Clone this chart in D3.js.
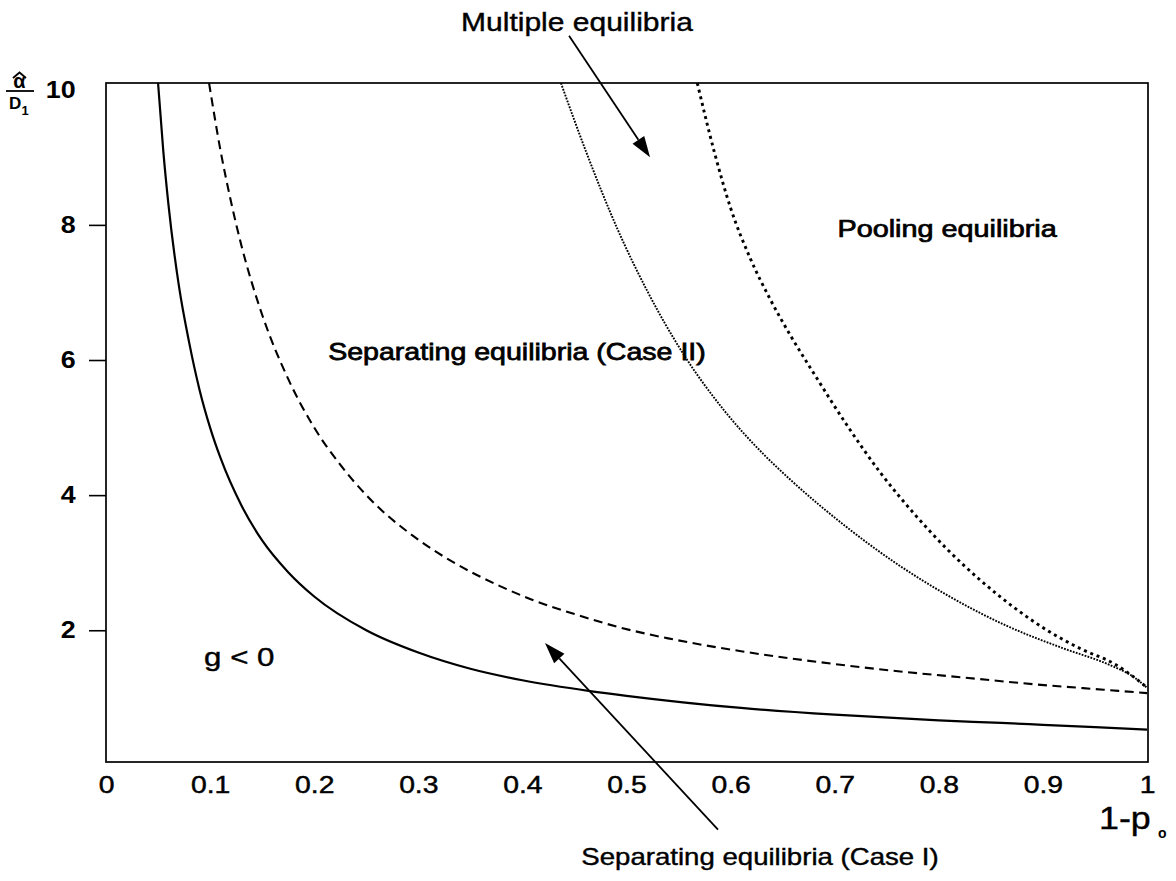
<!DOCTYPE html>
<html>
<head>
<meta charset="utf-8">
<script src="https://cdn.jsdelivr.net/npm/d3@7"></script>
<style>
  body { margin: 0; background: #fff; }
  svg { display: block; font-family: "Liberation Sans", Arial, Helvetica, sans-serif; }
</style>
</head>
<body>
<div id="chart"></div>
<script>
// boundary curves, as [1-p0, alpha/D1]
const solidCurve = [
  [0.050, 10.1], [0.055, 9.1], [0.060, 8.3], [0.070, 7.1], [0.080, 6.25], [0.090, 5.55],
  [0.100, 5.0], [0.110, 4.55], [0.130, 3.85], [0.150, 3.33], [0.175, 2.86], [0.200, 2.5],
  [0.250, 2.0], [0.300, 1.67], [0.350, 1.43], [0.400, 1.26], [0.465, 1.1], [0.500, 1.03],
  [0.610, 0.85], [0.700, 0.75], [0.800, 0.665], [0.860, 0.628], [0.900, 0.60], [1.000, 0.53]
];
const dashedCurve = [
  [0.099, 10.1], [0.110, 9.1], [0.120, 8.35], [0.130, 7.7], [0.150, 6.67], [0.175, 5.72],
  [0.200, 5.0], [0.225, 4.45], [0.250, 4.0], [0.300, 3.34], [0.331, 3.03], [0.379, 2.65],
  [0.408, 2.46], [0.450, 2.24], [0.494, 2.04], [0.540, 1.88], [0.610, 1.69], [0.700, 1.5],
  [0.763, 1.39], [0.824, 1.3], [0.892, 1.2], [0.950, 1.13], [1.000, 1.07]
];
const fineDotCurve = [
  [0.437, 10.1], [0.462, 9.05], [0.491, 7.95], [0.520, 7.02], [0.555, 6.08], [0.594, 5.25],
  [0.632, 4.6], [0.658, 4.22], [0.712, 3.52], [0.760, 2.98], [0.808, 2.52], [0.866, 2.06],
  [0.920, 1.73], [0.962, 1.5], [0.988, 1.3], [1.000, 1.15]
];
const thickDotCurve = [
  [0.568, 10.1], [0.584, 9.1], [0.600, 8.25], [0.619, 7.5], [0.638, 6.9], [0.658, 6.35],
  [0.680, 5.8], [0.712, 5.03], [0.744, 4.33], [0.776, 3.73], [0.808, 3.2], [0.840, 2.74],
  [0.872, 2.34], [0.904, 2.0], [0.937, 1.72], [0.969, 1.5], [0.988, 1.3], [1.000, 1.15]
];

const xTicks = [0, 0.1, 0.2, 0.3, 0.4, 0.5, 0.6, 0.7, 0.8, 0.9, 1];
const xTickLabels = ["0", "0.1", "0.2", "0.3", "0.4", "0.5", "0.6", "0.7", "0.8", "0.9", "1"];
const yTicks = [2, 4, 6, 8, 10];
const yTickLabels = ["2", "4", "6", "8", "10"];

const width = 1176, height = 881;
const box = {left: 106, right: 1148, top: 83, bottom: 762};

const svg = d3.select("#chart")
  .append("svg")
  .attr("width", width)
  .attr("height", height)
  .attr("viewBox", `0 0 ${width} ${height}`);

const x = d3.scaleLinear().domain([0, 1]).range([box.left, box.right - 1]);
const y = d3.scaleLinear().domain([0.05, 10.1]).range([box.bottom, box.top]);

svg.append("clipPath").attr("id", "plot-clip")
  .append("rect")
  .attr("x", box.left).attr("y", box.top)
  .attr("width", box.right - box.left).attr("height", box.bottom - box.top);

// x axis: labels only, no tick marks
const gx = svg.append("g")
  .attr("transform", `translate(0,${box.bottom})`)
  .call(d3.axisBottom(x).tickValues(xTicks).tickFormat((d, i) => xTickLabels[i]).tickSize(0).tickPadding(14))
  .attr("font-family", null).attr("font-size", null);
gx.select(".domain").remove();
gx.selectAll("text")
  .attr("fill", "#000")
  .attr("stroke", "#000").attr("stroke-width", 0.45)
  .style("font-size", "24px")
  .attr("transform", "scale(1.18,1)");

// y axis: outward ticks at 2..8, label only at 10
const gy = svg.append("g")
  .attr("transform", `translate(${box.left},0)`)
  .call(d3.axisLeft(y).tickValues(yTicks).tickFormat((d, i) => yTickLabels[i]).tickSize(17).tickPadding(14))
  .attr("font-family", null).attr("font-size", null);
gy.select(".domain").remove();
gy.selectAll(".tick line").attr("stroke", "#000").attr("stroke-width", 1.6);
gy.selectAll(".tick").filter(d => d === 10).select("line").remove();
gy.selectAll("text")
  .attr("fill", "#000")
  .attr("x", -27)
  .style("font-size", "24px")
  .style("font-weight", "bold")
  .attr("transform", "scale(1.12,1)");

// frame
svg.append("rect")
  .attr("x", box.left).attr("y", box.top)
  .attr("width", box.right - box.left).attr("height", box.bottom - box.top)
  .attr("fill", "none").attr("stroke", "#000").attr("stroke-width", 1.7);

// curves
const line = d3.line().x(d => x(d[0])).y(d => y(d[1])).curve(d3.curveMonotoneX);
const curves = svg.append("g").attr("clip-path", "url(#plot-clip)").attr("fill", "none").attr("stroke", "#000");

curves.append("path").datum(solidCurve).attr("d", line).attr("stroke-width", 2.2);
curves.append("path").datum(dashedCurve).attr("d", line).attr("stroke-width", 2.1)
  .attr("stroke-dasharray", "9,5.5");
curves.append("path").datum(fineDotCurve).attr("d", line).attr("stroke-width", 1.9)
  .attr("stroke-dasharray", "1.8,1.3");
curves.append("path").datum(thickDotCurve).attr("d", line).attr("stroke-width", 2.9)
  .attr("stroke-dasharray", "3,3.8");

// annotations
function arrow(x1, y1, x2, y2) {
  const a = Math.atan2(y2 - y1, x2 - x1);
  const len = 21, half = 7;
  const bx = x2 - len * Math.cos(a), by = y2 - len * Math.sin(a);
  svg.append("line")
    .attr("x1", x1).attr("y1", y1).attr("x2", bx).attr("y2", by)
    .attr("stroke", "#000").attr("stroke-width", 1.8);
  svg.append("path")
    .attr("d", `M${x2},${y2}L${bx + half * Math.sin(a)},${by - half * Math.cos(a)}L${bx - half * Math.sin(a)},${by + half * Math.cos(a)}Z`)
    .attr("fill", "#000");
}

function label(str, px, py, size, sx, opts = {}) {
  const g = svg.append("g").attr("transform", `translate(${px},${py}) scale(${sx},1)`);
  const t = g.append("text")
    .attr("text-anchor", opts.anchor || "middle")
    .attr("dy", "0.35em")
    .style("font-size", size + "px")
    .attr("fill", "#000")
    .attr("stroke", "#000")
    .attr("stroke-width", opts.heavy ? 0.75 : 0.4)
    .text(str);
  return t;
}

arrow(x(0.4448), y(10.8), x(0.5226), y(9.0));
arrow(x(0.5879), y(-0.95), x(0.4217), y(1.81));

label("Multiple equilibria", x(0.4524), 22, 25, 1.2);
label("Pooling equilibria", x(0.808), y(7.95), 24, 1.2, {heavy: true});
label("Separating equilibria (Case II)", x(0.3948), y(6.12), 24, 1.19, {heavy: true});
label("g < 0", x(0.128), y(1.6), 25, 1.25);
label("Separating equilibria (Case I)", 760, 857, 23, 1.2);

// x axis title 1-p0
label("1-p", 1099, 818, 32, 1.12, {anchor: "start"});
svg.append("text").attr("x", 1158).attr("y", 838)
  .style("font-size", "14px").style("font-weight", "bold").text("o");

// y axis title: alpha-hat over D1
svg.append("path").attr("d", "M13,78L19.5,72.5L26,78")
  .attr("fill", "none").attr("stroke", "#000").attr("stroke-width", 1.8);
svg.append("text").attr("x", 19.5).attr("y", 88).attr("text-anchor", "middle")
  .style("font-size", "20px").style("font-weight", "bold").text("α");
svg.append("line").attr("x1", 6).attr("x2", 34).attr("y1", 91).attr("y2", 91)
  .attr("stroke", "#000").attr("stroke-width", 1.8);
svg.append("text").attr("x", 9).attr("y", 109)
  .style("font-size", "17px").style("font-weight", "bold").text("D");
svg.append("text").attr("x", 21.5).attr("y", 115)
  .style("font-size", "13px").style("font-weight", "bold").text("1");
</script>
</body>
</html>
